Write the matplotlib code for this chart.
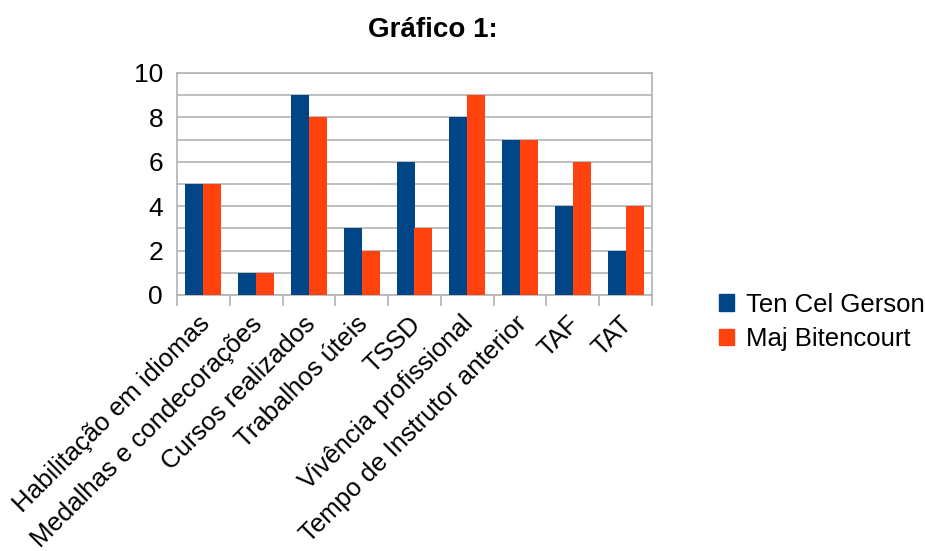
import numpy as np
import matplotlib.pyplot as plt
import matplotlib.transforms as mtransforms
from matplotlib.patches import Patch
from matplotlib.ticker import MultipleLocator

plt.rcParams['font.family'] = ['Liberation Sans', 'DejaVu Sans']

categorias = ["Habilitação em idiomas", "Medalhas e condecorações", "Cursos realizados",
              "Trabalhos úteis", "TSSD", "Vivência profissional",
              "Tempo de Instrutor anterior", "TAF", "TAT"]
gerson = [5, 1, 9, 3, 6, 8, 7, 4, 2]
bitencourt = [5, 1, 8, 2, 3, 9, 7, 6, 4]
series = ["Ten Cel Gerson", "Maj Bitencourt"]
cores = ["#004586", "#ff420e"]

fig = plt.figure(figsize=(9.25, 5.51), dpi=100)
ax = fig.add_axes([177/925, 1 - 295/551, (652-177)/925, (295-73)/551])

x = np.arange(len(categorias))
w = 0.34
ax.bar(x - w/2, gerson, w, color=cores[0], zorder=3)
ax.bar(x + w/2, bitencourt, w, color=cores[1], zorder=3)

ax.set_xlim(-0.5, len(categorias) - 0.5)
ax.set_ylim(0, 10)
ax.yaxis.set_major_locator(MultipleLocator(2))
ax.yaxis.set_minor_locator(MultipleLocator(1))
ax.grid(axis='y', which='both', color='#b3b3b3', lw=1.2, zorder=0)

# separators between categories, drawn only as ticks below the axis
ax.set_xticks(np.arange(len(categorias) + 1) - 0.5, minor=True)
ax.tick_params(axis='x', which='minor', length=8, color='#b3b3b3', width=1.2)
ax.tick_params(axis='x', which='major', length=0, pad=12)
ax.tick_params(axis='y', which='both', length=0, pad=10, labelsize=19)
ax.set_xticks(x)
ax.set_xticklabels(categorias, rotation=45, ha='right', rotation_mode='anchor', fontsize=18.5)
shift = mtransforms.ScaledTranslation(-6/100, 0, fig.dpi_scale_trans)
for lbl in ax.get_xticklabels():
    lbl.set_transform(lbl.get_transform() + shift)
for s in ax.spines.values():
    s.set_color('#b3b3b3')
    s.set_linewidth(1.2)

fig.text(0.468, 0.946, "Gráfico 1:", ha='center', va='center', fontsize=20, fontweight='bold')

handles = [Patch(color=c, label=s) for c, s in zip(cores, series)]
fig.legend(handles=handles, loc='center left', bbox_to_anchor=(0.777, 0.416), frameon=False,
           borderpad=0, borderaxespad=0, fontsize=18.5, handlelength=0.6, handleheight=0.6,
           handletextpad=0.45, labelspacing=0.4)

fig.savefig("out.png", dpi=100)
